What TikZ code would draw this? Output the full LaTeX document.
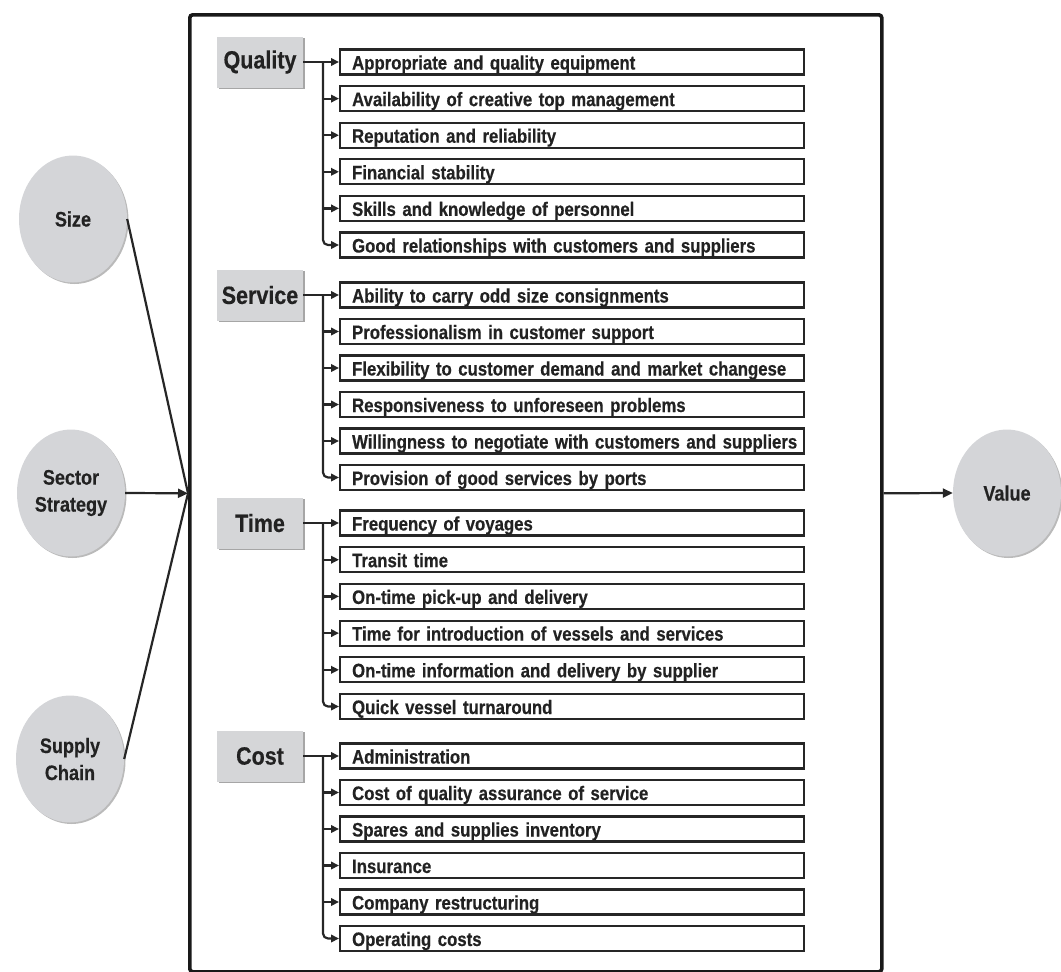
\documentclass[tikz,border=0pt]{standalone}
\usepackage{fontspec}
\setmainfont[FakeStretch=0.86,WordSpace=0.8,BoldFeatures={FakeBold=0.4}]{Liberation Sans}
\usetikzlibrary{shapes.geometric,arrows.meta,shadows}
\definecolor{circfill}{HTML}{D4D5D8}
\definecolor{catfill}{HTML}{D5D6D8}
\definecolor{ink}{HTML}{222222}
\definecolor{linec}{HTML}{262626}
\tikzset{
  every node/.style={text=ink},
  circ/.style={ellipse, fill=circfill, minimum width=108, minimum height=127, inner sep=0,
    align=center, font=\fontsize{21}{27}\selectfont\bfseries,
    drop shadow={shadow xshift=1.5pt, shadow yshift=-1.5pt, fill=black!45, opacity=0.6}},
  catbox/.style={rectangle, fill=catfill, minimum width=86, minimum height=51, inner sep=0,
    font=\fontsize{25}{30}\selectfont\bfseries,
    drop shadow={shadow xshift=1.5pt, shadow yshift=-1.5pt, fill=black!50, opacity=0.7}},
  itembox/.style={rectangle, draw=linec, line width=2.2, fill=white, anchor=west,
    minimum width=464, minimum height=25, inner ysep=0, inner xsep=12,
    text width=440, align=left, text height=17, text depth=2,
    font=\fontsize{19.5}{22}\selectfont\bfseries},
  conn/.style={draw=linec, line width=2.2},
  tip/.style={-{Triangle[length=8,width=7.5]}},
  bigtip/.style={-{Triangle[length=10,width=9]}},
}
\begin{document}
\begin{tikzpicture}[x=1pt,y=-1pt]
\useasboundingbox (0,0) rectangle (1061,972);
\node[draw=black!90, line width=3.6, rounded corners=3, minimum width=692, minimum height=957,
  inner sep=0, anchor=north west] (frame) at (188,13) {};

\node[circ] (size) at (73,219) {Size};
\node[circ] (sector) at (71,493) {Sector\\Strategy};
\node[circ] (supply) at (70,759) {Supply\\Chain};
\node[circ] (value) at (1007,493) {Value};

\draw[conn] (size.east) -- (frame.west);
\draw[conn] (supply.east) -- (frame.west);
\draw[conn,bigtip] (sector.east) -- (frame.west);
\draw[conn,bigtip] (frame.east) -- (value.west);

% categories
\node[catbox] (q) at (260,62) {Quality};
\node[catbox] (s) at (260,295) {Service};
\node[catbox] (t) at (260,523) {Time};
\node[catbox] (c) at (260,756) {Cost};

\foreach [count=\i] \txt in {Appropriate and quality equipment,
  Availability of creative top management,
  Reputation and reliability,
  Financial stability,
  Skills and knowledge of personnel,
  Good relationships with customers and suppliers}
  \node[itembox] (q\i) at (339,{62+(\i-1)*36.6}) {\mbox{\txt}};

\foreach [count=\i] \txt in {Ability to carry odd size consignments,
  Professionalism in customer support,
  Flexibility to customer demand and market changese,
  Responsiveness to unforeseen problems,
  Willingness to negotiate with customers and suppliers,
  Provision of good services by ports}
  \node[itembox] (s\i) at (339,{295+(\i-1)*36.5}) {\mbox{\txt}};

\foreach [count=\i] \txt in {Frequency of voyages,
  Transit time,
  On-time pick-up and delivery,
  Time for introduction of vessels and services,
  On-time information and delivery by supplier,
  Quick vessel turnaround}
  \node[itembox] (t\i) at (339,{523+(\i-1)*36.7}) {\mbox{\txt}};

\foreach [count=\i] \txt in {Administration,
  Cost of quality assurance of service,
  Spares and supplies inventory,
  Insurance,
  Company restructuring,
  Operating costs}
  \node[itembox] (c\i) at (339,{756+(\i-1)*36.5}) {\mbox{\txt}};

\foreach \g in {q,s,t,c} {
  \coordinate (\g T) at (323,0);
  \draw[conn,tip] (\g.east) -- (\g1.west);
  \draw[conn,tip,rounded corners=5] (\g T |- \g.east) |- (\g6.west);
  \foreach \i in {2,...,5}
    \draw[conn,tip] (\g T |- \g\i.west) -- (\g\i.west);
}
\end{tikzpicture}
\end{document}
